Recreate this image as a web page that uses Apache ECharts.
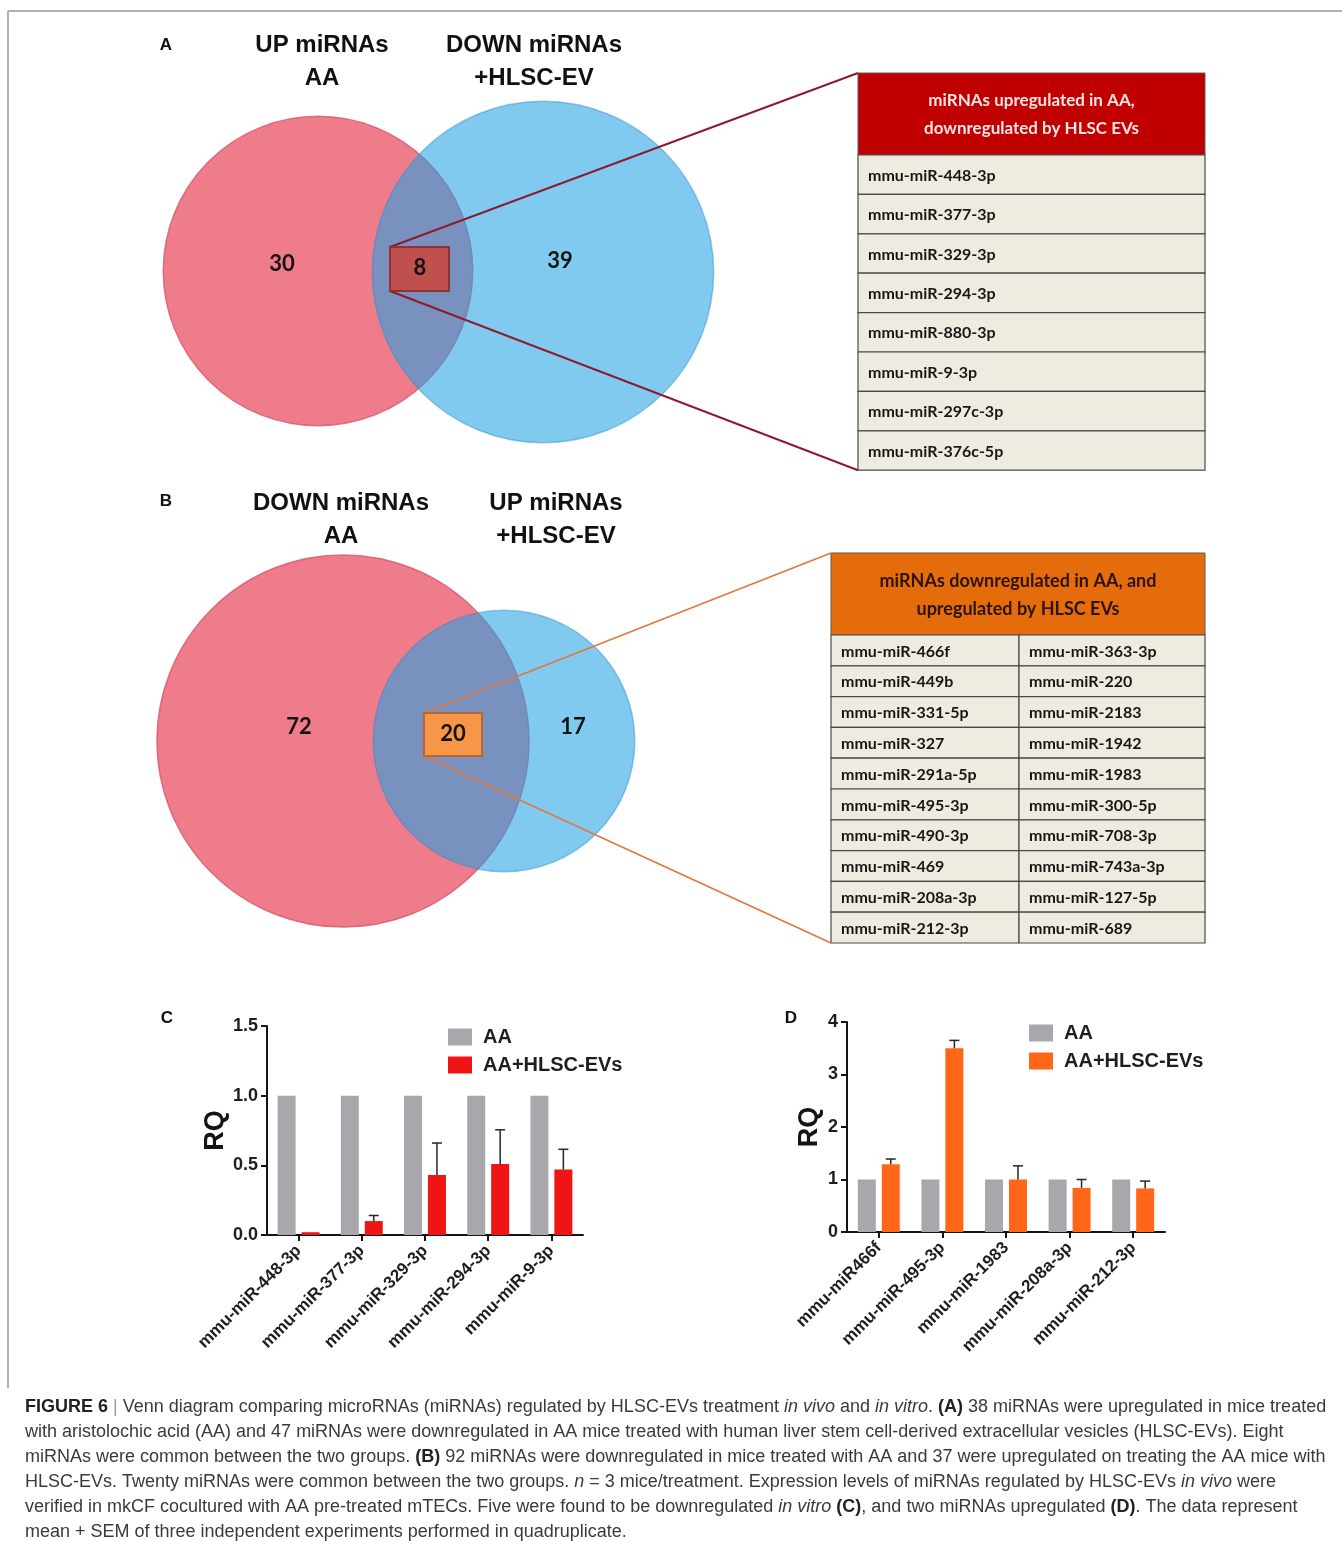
<!DOCTYPE html>
<html>
<head>
<meta charset="utf-8">
<script src="https://cdn.jsdelivr.net/npm/echarts@6/dist/echarts.min.js"></script>
<style>
  html, body { margin: 0; padding: 0; background: #ffffff; }
  #fig { width: 1342px; height: 1541px; }
</style>
</head>
<body>
<div id="fig"></div>
<script>
// ---------- data ----------
// Venn counts: [left only, shared, right only]
const vennACounts = [30, 8, 39];
const vennBCounts = [72, 20, 17];
// set totals (left circle, right circle)
const vennATotals = [38, 47];
const vennBTotals = [92, 37];
const vennATitles = [['UP miRNAs', 'AA'], ['DOWN miRNAs', '+HLSC-EV']];
const vennBTitles = [['DOWN miRNAs', 'AA'], ['UP miRNAs', '+HLSC-EV']];

const tableATitle = ['miRNAs upregulated in AA,', 'downregulated by HLSC EVs'];
const tableAItems = ['mmu-miR-448-3p', 'mmu-miR-377-3p', 'mmu-miR-329-3p', 'mmu-miR-294-3p',
  'mmu-miR-880-3p', 'mmu-miR-9-3p', 'mmu-miR-297c-3p', 'mmu-miR-376c-5p'];

const tableBTitle = ['miRNAs downregulated in AA, and', 'upregulated by HLSC EVs'];
const tableBLeft = ['mmu-miR-466f', 'mmu-miR-449b', 'mmu-miR-331-5p', 'mmu-miR-327', 'mmu-miR-291a-5p',
  'mmu-miR-495-3p', 'mmu-miR-490-3p', 'mmu-miR-469', 'mmu-miR-208a-3p', 'mmu-miR-212-3p'];
const tableBRight = ['mmu-miR-363-3p', 'mmu-miR-220', 'mmu-miR-2183', 'mmu-miR-1942', 'mmu-miR-1983',
  'mmu-miR-300-5p', 'mmu-miR-708-3p', 'mmu-miR-743a-3p', 'mmu-miR-127-5p', 'mmu-miR-689'];

const seriesNames = ['AA', 'AA+HLSC-EVs'];

const barCCategories = ['mmu-miR-448-3p', 'mmu-miR-377-3p', 'mmu-miR-329-3p', 'mmu-miR-294-3p', 'mmu-miR-9-3p'];
const barCAA = [1.0, 1.0, 1.0, 1.0, 1.0];
const barCEV = [0.02, 0.10, 0.43, 0.51, 0.47];
const barCSEM = [0, 0.04, 0.23, 0.245, 0.145];
const rqTicksC = [0, 0.5, 1.0, 1.5];

const barDCategories = ['mmu-miR466f', 'mmu-miR-495-3p', 'mmu-miR-1983', 'mmu-miR-208a-3p', 'mmu-miR-212-3p'];
const barDAA = [1.0, 1.0, 1.0, 1.0, 1.0];
const barDEV = [1.29, 3.50, 1.00, 0.84, 0.83];
const barDSEM = [0.10, 0.15, 0.26, 0.16, 0.14];
const rqTicksD = [0, 1, 2, 3, 4];

const captionLines = [
  '{b|FIGURE 6} {g||} {n|Venn diagram comparing microRNAs (miRNAs) regulated by HLSC-EVs treatment }{i|in vivo}{n| and }{i|in vitro}{n|. }{b|(A)}{n| 38 miRNAs were upregulated in mice treated}',
  '{n|with aristolochic acid (AA) and 47 miRNAs were downregulated in AA mice treated with human liver stem cell-derived extracellular vesicles (HLSC-EVs). Eight}',
  '{n|miRNAs were common between the two groups. }{b|(B)}{n| 92 miRNAs were downregulated in mice treated with AA and 37 were upregulated on treating the AA mice with}',
  '{n|HLSC-EVs. Twenty miRNAs were common between the two groups. }{i|n}{n| = 3 mice/treatment. Expression levels of miRNAs regulated by HLSC-EVs }{i|in vivo}{n| were}',
  '{n|verified in mkCF cocultured with AA pre-treated mTECs. Five were found to be downregulated }{i|in vitro}{n| }{b|(C)}{n|, and two miRNAs upregulated }{b|(D)}{n|. The data represent}',
  '{n|mean + SEM of three independent experiments performed in quadruplicate.}'
];

// ---------- layout & styles ----------
const ARIAL = '"Liberation Sans", Arial, sans-serif';
const CALIBRI = 'Lato, "Open Sans", sans-serif';
const GRAY = '#A8A8AC';
const RED = '#F01515';
const ORANGE = '#FF6619';

const vennA = {
  left: { cx: 318, cy: 271, k: 25.1 }, right: { cx: 543, cy: 272, k: 24.9 },
  titleX: [322, 534], titleY: [45, 78], letter: 'A', letterPos: [166, 45],
  countPos: [[282, 264], [420, 268], [560, 261]],
  box: { x: 390, y: 247, w: 59, h: 44, fill: '#C0504D', stroke: '#8A3433' },
  link: '#8C1B31', linkWidth: 2,
  table: { x: 858, y: 73, w: 347, headH: 82, rowH: 39.4, head: '#C00000', headText: '#FBE4E4' }
};
const vennB = {
  left: { cx: 343, cy: 741, k: 19.4 }, right: { cx: 504, cy: 741, k: 21.5 },
  titleX: [341, 556], titleY: [503, 536], letter: 'B', letterPos: [166, 501],
  countPos: [[299, 727], [453, 734], [573, 727]],
  box: { x: 424, y: 713, w: 58, h: 43, fill: '#F79646', stroke: '#B8682E' },
  link: '#E0783E', linkWidth: 1.6,
  table: { x: 831, y: 553, w: 374, headH: 82, rowH: 30.8, split: 188, head: '#E46C0A', headText: '#2C1406' }
};

function txt(x, y, text, size, weight, family, fill, align, extra) {
  return Object.assign({
    type: 'text', x: x, y: y, z: 20,
    style: { text: text, fontSize: size, fontWeight: weight, fontFamily: family, fill: fill,
      align: align || 'center', verticalAlign: 'middle' }
  }, extra || {});
}

function vennElements(v, counts, totals, titles) {
  const els = [];
  const rL = v.left.k * Math.sqrt(totals[0]);
  const rR = v.right.k * Math.sqrt(totals[1]);
  els.push({ type: 'circle', z: 1, shape: { cx: v.left.cx, cy: v.left.cy, r: rL },
    style: { fill: 'rgb(239,124,139)', stroke: 'rgba(214,90,110,0.8)', lineWidth: 1.5 } });
  els.push({ type: 'circle', z: 2, shape: { cx: v.right.cx, cy: v.right.cy, r: rR },
    style: { fill: 'rgba(32,162,228,0.57)', stroke: 'rgba(40,140,205,0.45)', lineWidth: 1.5 } });
  // titles
  titles.forEach(function (t, i) {
    t.forEach(function (line, j) {
      els.push(txt(v.titleX[i], v.titleY[j], line, 24, 'bold', ARIAL, '#111'));
    });
  });
  els.push(txt(v.letterPos[0], v.letterPos[1], v.letter, 17, 'bold', ARIAL, '#111'));
  // connectors from the shared box to the table
  const tb = v.table;
  const tBottom = tb.y + tb.headH + tb.rowH * (v === vennA ? tableAItems.length : tableBLeft.length);
  els.push({ type: 'line', z: 5, shape: { x1: v.box.x, y1: v.box.y, x2: tb.x, y2: tb.y },
    style: { stroke: v.link, lineWidth: v.linkWidth } });
  els.push({ type: 'line', z: 5, shape: { x1: v.box.x, y1: v.box.y + v.box.h, x2: tb.x, y2: tBottom },
    style: { stroke: v.link, lineWidth: v.linkWidth } });
  els.push({ type: 'rect', z: 6, shape: { x: v.box.x, y: v.box.y, width: v.box.w, height: v.box.h },
    style: { fill: v.box.fill, stroke: v.box.stroke, lineWidth: 2 } });
  // counts
  counts.forEach(function (c, i) {
    els.push(txt(v.countPos[i][0], v.countPos[i][1], String(c), 22, 'bold', CALIBRI, '#141414'));
  });
  return els;
}

function tableElements(v, title, cols) {
  const els = [];
  const tb = v.table;
  const nRows = cols[0].length;
  els.push({ type: 'rect', z: 3, shape: { x: tb.x, y: tb.y, width: tb.w, height: tb.headH },
    style: { fill: tb.head, stroke: '#5a5a5a', lineWidth: 1 } });
  title.forEach(function (line, j) {
    els.push(txt(tb.x + tb.w / 2, tb.y + tb.headH * (j === 0 ? 0.34 : 0.68), line,
      v === vennA ? 17 : 18, 'bold', CALIBRI, tb.headText));
  });
  const colW = cols.length === 1 ? [tb.w] : [tb.split, tb.w - tb.split];
  for (let r = 0; r < nRows; r++) {
    let cx = tb.x;
    const y = tb.y + tb.headH + r * tb.rowH;
    cols.forEach(function (col, c) {
      els.push({ type: 'rect', z: 3, shape: { x: cx, y: y, width: colW[c], height: tb.rowH },
        style: { fill: '#EEECE1', stroke: '#4a4a4a', lineWidth: 1.2 } });
      els.push(txt(cx + 10, y + tb.rowH / 2 + 1, col[r], 16, 'bold', CALIBRI, '#161616', 'left'));
      cx += colW[c];
    });
  }
  return els;
}

const graphicEls = []
  .concat([
    { type: 'line', z: 0, shape: { x1: 8, y1: 11, x2: 1342, y2: 11 }, style: { stroke: '#B0B0B0', lineWidth: 2 } },
    { type: 'line', z: 0, shape: { x1: 8, y1: 11, x2: 8, y2: 1388 }, style: { stroke: '#B0B0B0', lineWidth: 2 } }
  ])
  .concat(vennElements(vennA, vennACounts, vennATotals, vennATitles))
  .concat(vennElements(vennB, vennBCounts, vennBTotals, vennBTitles))
  .concat(tableElements(vennA, tableATitle, [tableAItems]))
  .concat(tableElements(vennB, tableBTitle, [tableBLeft, tableBRight]))
  .concat([
    txt(167, 1018, 'C', 17, 'bold', ARIAL, '#111'),
    txt(791, 1018, 'D', 17, 'bold', ARIAL, '#111')
  ]);

const capFont = { fontSize: 18, fontFamily: ARIAL, fill: '#3a3a3a' };
captionLines.forEach(function (line, i) {
  graphicEls.push({
    type: 'text', x: 25, y: 1407 + i * 25, z: 20,
    style: Object.assign({
      text: line, align: 'left', verticalAlign: 'middle',
      rich: {
        n: Object.assign({}, capFont),
        b: Object.assign({}, capFont, { fontWeight: 'bold', fill: '#222' }),
        i: Object.assign({}, capFont, { fontStyle: 'italic' }),
        g: Object.assign({}, capFont, { fill: '#999' })
      }
    }, capFont)
  });
});

// ---------- bar charts ----------
const BAR_W = 18, BAR_GAP = 0.33;
const errOffset = (BAR_W + BAR_W * BAR_GAP) / 2;

function errorBar(params, api) {
  const i = api.value(0);
  const base = api.coord([i, api.value(1)]);
  const top = api.coord([i, api.value(2)]);
  if (Math.abs(base[1] - top[1]) < 0.5) return null;
  const x = base[0] + errOffset;
  const st = { stroke: '#262626', lineWidth: 1.5, fill: null };
  return {
    type: 'group', children: [
      { type: 'line', shape: { x1: x, y1: base[1], x2: x, y2: top[1] }, style: st },
      { type: 'line', shape: { x1: x - 5, y1: top[1], x2: x + 5, y2: top[1] }, style: st }
    ]
  };
}

const axisLineStyle = { color: '#141414', width: 2 };
function xAxisFor(grid, cats) {
  return {
    gridIndex: grid, type: 'category', data: cats,
    axisLine: { show: true, lineStyle: axisLineStyle },
    axisTick: { show: true, alignWithLabel: true, length: 6, lineStyle: axisLineStyle },
    axisLabel: { interval: 0, rotate: 45, margin: 13, fontSize: 17, fontWeight: 'bold', fontFamily: ARIAL, color: '#1e1e1e' },
    splitLine: { show: false }
  };
}
function yAxisFor(grid, ticks, decimals, gap) {
  return {
    gridIndex: grid, type: 'value',
    min: ticks[0], max: ticks[ticks.length - 1], interval: ticks[1] - ticks[0],
    axisLine: { show: true, lineStyle: axisLineStyle },
    axisTick: { show: true, length: 6, lineStyle: axisLineStyle },
    axisLabel: { margin: 9, fontSize: 18, fontWeight: 'bold', fontFamily: ARIAL, color: '#1e1e1e',
      formatter: function (v) { return v.toFixed(decimals); } },
    splitLine: { show: false },
    name: 'RQ', nameLocation: 'middle', nameGap: gap, nameRotate: 90,
    nameTextStyle: { fontSize: 27, fontWeight: 'bold', fontFamily: ARIAL, color: '#141414' }
  };
}
function legendFor(left, top, evColor) {
  return {
    left: left, top: top, orient: 'vertical', padding: 0, itemGap: 8,
    itemWidth: 24, itemHeight: 17, icon: 'rect', selectedMode: false,
    data: [
      { name: seriesNames[0], itemStyle: { color: GRAY } },
      { name: seriesNames[1], itemStyle: { color: evColor } }
    ],
    textStyle: { fontSize: 20, fontWeight: 'bold', fontFamily: ARIAL, color: '#1e1e1e', padding: [0, 0, 0, 6] }
  };
}
function barSeries(axis, name, values, color) {
  return {
    type: 'bar', name: name, xAxisIndex: axis, yAxisIndex: axis, data: values,
    barWidth: BAR_W, barGap: (BAR_GAP * 100) + '%', itemStyle: { color: color }, z: 3
  };
}
function errSeries(axis, means, sems) {
  return {
    type: 'custom', name: 'SEM', xAxisIndex: axis, yAxisIndex: axis, z: 4,
    renderItem: errorBar, encode: { x: 0, y: [1, 2] },
    data: means.map(function (m, i) { return [i, m, m + sems[i]]; })
  };
}

const option = {
  animation: false,
  backgroundColor: '#ffffff',
  grid: [
    { left: 267, top: 1026, width: 316, height: 209 },
    { left: 847, top: 1022, width: 318, height: 210 }
  ],
  xAxis: [xAxisFor(0, barCCategories), xAxisFor(1, barDCategories)],
  yAxis: [yAxisFor(0, rqTicksC, 1, 36), yAxisFor(1, rqTicksD, 0, 24)],
  legend: [legendFor(448, 1027, RED), legendFor(1029, 1023, ORANGE)],
  series: [
    barSeries(0, seriesNames[0], barCAA, GRAY),
    barSeries(0, seriesNames[1], barCEV, RED),
    errSeries(0, barCEV, barCSEM),
    barSeries(1, seriesNames[0], barDAA, GRAY),
    barSeries(1, seriesNames[1], barDEV, ORANGE),
    errSeries(1, barDEV, barDSEM)
  ],
  graphic: { elements: graphicEls }
};

const chart = echarts.init(document.getElementById('fig'), null, { renderer: 'canvas' });
chart.setOption(option);
</script>
</body>
</html>
